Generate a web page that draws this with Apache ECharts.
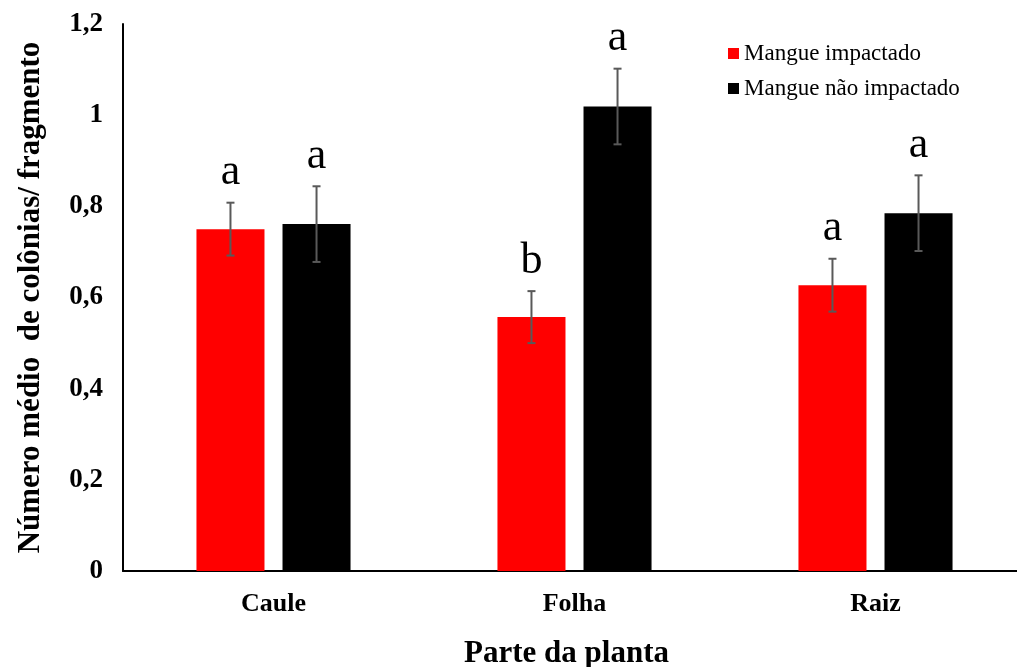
<!DOCTYPE html>
<html>
<head>
<meta charset="utf-8">
<script src="https://cdn.jsdelivr.net/npm/echarts@6/dist/echarts.min.js"></script>
<style>
html,body{margin:0;padding:0;background:#fff;}
#chart{width:1017px;height:667px;}
</style>
</head>
<body>
<div id="chart"></div>
<script>
var categories = ['Caule', 'Folha', 'Raiz'];
var seriesNames = ['Mangue impactado', 'Mangue não impactado'];
var impactado = [0.750, 0.557, 0.627];
var naoImpactado = [0.761, 1.019, 0.785];
var errImpactado = [0.058, 0.057, 0.058];
var errNaoImpactado = [0.083, 0.083, 0.083];
var lettersImpactado = ['a', 'b', 'a'];
var lettersNaoImpactado = ['a', 'a', 'a'];
var yTicks = [0, 0.2, 0.4, 0.6, 0.8, 1, 1.2];

var SERIF = "'Liberation Serif', 'Times New Roman', 'DejaVu Serif', serif";
var BAR_W = 0.226;   // fraction of band
var BAR_GAP = 0.265; // fraction of bar width

function errData(vals, errs, letters) {
  return vals.map(function (v, i) { return [i, v, errs[i], letters[i]]; });
}

function makeRender(sign) {
  return function (params, api) {
    var idx = api.value(0);
    var val = api.value(1);
    var err = api.value(2);
    var letter = api.value(3);
    var band = api.size([1, 0])[0];
    var bw = band * BAR_W;
    var off = sign * bw * (1 + BAR_GAP) / 2;
    var top = api.coord([idx, val + err]);
    var bot = api.coord([idx, val - err]);
    var x = top[0] + off;
    var cap = 4;
    var st = { stroke: '#595959', lineWidth: 2 };
    return {
      type: 'group',
      children: [
        { type: 'line', shape: { x1: x, y1: top[1], x2: x, y2: bot[1] }, style: st },
        { type: 'line', shape: { x1: x - cap, y1: top[1], x2: x + cap, y2: top[1] }, style: st },
        { type: 'line', shape: { x1: x - cap, y1: bot[1], x2: x + cap, y2: bot[1] }, style: st },
        { type: 'text', style: { text: letter, x: x, y: top[1] - 30, textAlign: 'center', textVerticalAlign: 'middle',
            font: '44px ' + SERIF, fill: '#000' } }
      ]
    };
  };
}

var chart = echarts.init(document.getElementById('chart'));
chart.setOption({
  animation: false,
  backgroundColor: '#fff',
  grid: { left: 123, top: 24, width: 903, bottom: 96, outerBoundsMode: 'none', containLabel: false },
  legend: {
    orient: 'vertical',
    left: 723,
    top: 37,
    itemWidth: 11,
    itemHeight: 11,
    itemGap: 12,
    icon: 'rect',
    data: seriesNames,
    textStyle: { fontFamily: SERIF, fontSize: 23, color: '#000' }
  },
  xAxis: {
    type: 'category',
    data: categories,
    name: 'Parte da planta',
    nameLocation: 'middle',
    nameGap: 67,
    nameTextStyle: { fontFamily: SERIF, fontSize: 31, fontWeight: 'bold', color: '#000', padding: [0, 16, 0, 0] },
    axisLine: { show: true, lineStyle: { color: '#000', width: 2 } },
    axisTick: { show: false },
    axisLabel: { margin: 20, fontFamily: SERIF, fontSize: 26, fontWeight: 'bold', color: '#000' }
  },
  yAxis: {
    type: 'value',
    min: 0,
    max: 1.2,
    interval: 0.2,
    name: 'Número médio  de colônias/ fragmento',
    nameLocation: 'middle',
    nameRotate: 90,
    nameGap: 77,
    nameTextStyle: { fontFamily: SERIF, fontSize: 31, fontWeight: 'bold', color: '#000' },
    axisLine: { show: true, lineStyle: { color: '#000', width: 2 } },
    axisTick: { show: false },
    splitLine: { show: false },
    axisLabel: {
      margin: 20,
      fontFamily: SERIF, fontSize: 27, fontWeight: 'bold', color: '#000',
      customValues: yTicks,
      formatter: function (v) { return String(Math.round(v * 10) / 10).replace('.', ','); }
    }
  },
  series: [
    { name: seriesNames[0], type: 'bar', data: impactado, barWidth: (BAR_W * 100) + '%', barGap: (BAR_GAP * 100) + '%',
      itemStyle: { color: '#ff0000' } },
    { name: seriesNames[1], type: 'bar', data: naoImpactado, barWidth: (BAR_W * 100) + '%', barGap: (BAR_GAP * 100) + '%',
      itemStyle: { color: '#000000' } },
    { type: 'custom', renderItem: makeRender(-1), data: errData(impactado, errImpactado, lettersImpactado), z: 10,
      encode: { x: 0, y: 1 }, silent: true },
    { type: 'custom', renderItem: makeRender(1), data: errData(naoImpactado, errNaoImpactado, lettersNaoImpactado), z: 10,
      encode: { x: 0, y: 1 }, silent: true }
  ]
});
</script>
</body>
</html>
